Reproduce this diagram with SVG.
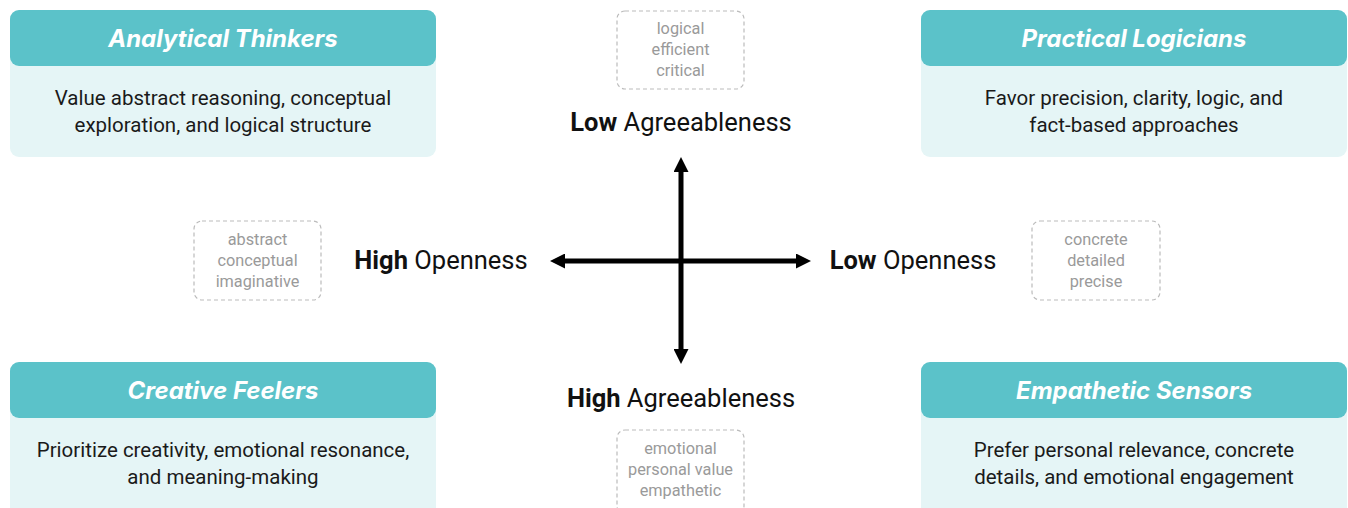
<svg xmlns="http://www.w3.org/2000/svg" width="1348" height="508" viewBox="0 0 1348 508">
<style>
.hdr{fill:#5BC2C9}
.body{fill:#E5F5F6}
.title{font-family:Inter,Roboto,"Liberation Sans",sans-serif;font-size:24px;font-weight:bold;font-style:italic;fill:#fff;text-anchor:middle}
.desc{font-family:Roboto,"Liberation Sans",sans-serif;font-size:20.5px;fill:#1a1a1a;text-anchor:middle}
.tag{fill:none;stroke:#bbb;stroke-width:1.2;stroke-dasharray:4 3}
.tagt{font-family:Roboto,"Liberation Sans",sans-serif;font-size:16.3px;fill:#9a9a9a;text-anchor:middle}
.axis{font-family:Roboto,"Liberation Sans",sans-serif;font-size:25.5px;fill:#111;text-anchor:middle}
.axis tspan.b{font-weight:bold}
.ln{stroke:#000;stroke-width:5;fill:none}
</style>
<defs>
<marker id="ah" viewBox="0 0 10 10" refX="2" refY="5" markerWidth="3" markerHeight="3" orient="auto-start-reverse">
<path d="M0,0 L10,5 L0,10 z" fill="#000"/>
</marker>
</defs>
<rect width="1348" height="508" fill="#fff"/>

<g id="analytical-thinkers">
<rect class="body" x="10" y="10" width="426" height="147" rx="9"/>
<rect class="hdr" x="10" y="10" width="426" height="56" rx="9"/>
<text class="title" x="223" y="47">Analytical Thinkers</text>
<text class="desc" x="223" y="105">Value abstract reasoning, conceptual</text>
<text class="desc" x="223" y="132">exploration, and logical structure</text>
</g>

<g id="practical-logicians">
<rect class="body" x="921" y="10" width="426" height="147" rx="9"/>
<rect class="hdr" x="921" y="10" width="426" height="56" rx="9"/>
<text class="title" x="1134" y="47">Practical Logicians</text>
<text class="desc" x="1134" y="105">Favor precision, clarity, logic, and</text>
<text class="desc" x="1134" y="132">fact-based approaches</text>
</g>

<g id="creative-feelers">
<rect class="body" x="10" y="362" width="426" height="156" rx="9"/>
<rect class="hdr" x="10" y="362" width="426" height="56" rx="9"/>
<text class="title" x="223" y="399">Creative Feelers</text>
<text class="desc" x="223" y="457">Prioritize creativity, emotional resonance,</text>
<text class="desc" x="223" y="484">and meaning-making</text>
</g>

<g id="empathetic-sensors">
<rect class="body" x="921" y="362" width="426" height="156" rx="9"/>
<rect class="hdr" x="921" y="362" width="426" height="56" rx="9"/>
<text class="title" x="1134" y="399">Empathetic Sensors</text>
<text class="desc" x="1134" y="457">Prefer personal relevance, concrete</text>
<text class="desc" x="1134" y="484">details, and emotional engagement</text>
</g>

<g id="tag-top">
<rect class="tag" x="617" y="11" width="127" height="78" rx="8"/>
<text class="tagt" x="680.5" y="34">logical</text>
<text class="tagt" x="680.5" y="55">efficient</text>
<text class="tagt" x="680.5" y="76">critical</text>
</g>
<g id="tag-left">
<rect class="tag" x="194" y="221" width="127" height="79" rx="8"/>
<text class="tagt" x="257.5" y="245">abstract</text>
<text class="tagt" x="257.5" y="266">conceptual</text>
<text class="tagt" x="257.5" y="287">imaginative</text>
</g>
<g id="tag-right">
<rect class="tag" x="1032" y="221" width="128" height="79" rx="8"/>
<text class="tagt" x="1096" y="245">concrete</text>
<text class="tagt" x="1096" y="266">detailed</text>
<text class="tagt" x="1096" y="287">precise</text>
</g>
<g id="tag-bottom">
<rect class="tag" x="617" y="430" width="127" height="84" rx="8"/>
<text class="tagt" x="680.5" y="454">emotional</text>
<text class="tagt" x="680.5" y="475">personal value</text>
<text class="tagt" x="680.5" y="496">empathetic</text>
</g>

<g id="label-low-agreeableness"><text class="axis" x="681" y="131"><tspan class="b">Low</tspan> Agreeableness</text></g>
<g id="label-high-agreeableness"><text class="axis" x="681" y="407"><tspan class="b">High</tspan> Agreeableness</text></g>
<g id="label-high-openness"><text class="axis" x="441" y="269"><tspan class="b">High</tspan> Openness</text></g>
<g id="label-low-openness"><text class="axis" x="913" y="269"><tspan class="b">Low</tspan> Openness</text></g>

<g id="connectors">
<line class="ln" x1="681" y1="169" x2="681" y2="352" marker-start="url(#ah)" marker-end="url(#ah)"/>
<line class="ln" x1="562" y1="261" x2="799" y2="261" marker-start="url(#ah)" marker-end="url(#ah)"/>
</g>
</svg>
